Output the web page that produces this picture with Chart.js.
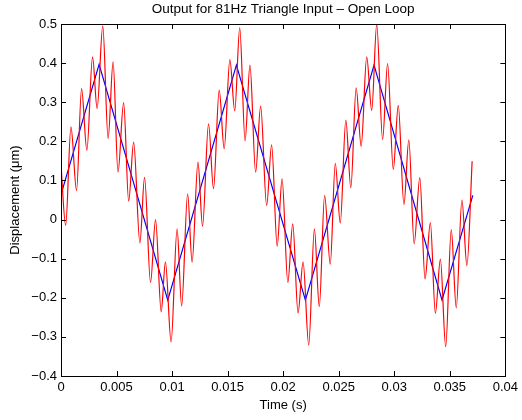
<!DOCTYPE html>
<html>
<head>
<meta charset="utf-8">
<script src="https://cdn.jsdelivr.net/npm/chart.js@4"></script>
<style>
html,body{margin:0;padding:0;background:#fff;}
#wrap{width:522px;height:420px;}
</style>
</head>
<body>
<div id="wrap"><canvas id="c" width="522" height="420"></canvas></div>
<script>
const chartTitle = "Output for 81Hz Triangle Input \u2013 Open Loop";
const xTitle = "Time (s)";
const yTitle = "Displacement (\u03bcm)";

const xTicks = [0, 0.005, 0.01, 0.015, 0.02, 0.025, 0.03, 0.035, 0.04];
const xTickLabels = ["0", "0.005", "0.01", "0.015", "0.02", "0.025", "0.03", "0.035", "0.04"];
const yTicks = [-0.4, -0.3, -0.2, -0.1, 0, 0.1, 0.2, 0.3, 0.4, 0.5];
const yTickLabels = ["\u22120.4", "\u22120.3", "\u22120.2", "\u22120.1", "0", "0.1", "0.2", "0.3", "0.4", "0.5"];

// Output (red) – extrema
const outputTime = [
  0, 0.00042, 0.000895, 0.0014, 0.00185, 0.00233, 0.00284, 0.00325, 0.00376, 0.00424,
  0.00469, 0.00513, 0.00564, 0.00609, 0.00654, 0.0071, 0.00752, 0.00806, 0.00851, 0.00902,
  0.0094, 0.00991, 0.01045, 0.01086, 0.0114, 0.0118, 0.01233, 0.01274, 0.01328, 0.01373,
  0.01424, 0.01469, 0.0152, 0.01564, 0.01609, 0.01657, 0.01701, 0.01752, 0.01797, 0.01851,
  0.01896, 0.01946, 0.0199, 0.02042, 0.02086, 0.02134, 0.02179, 0.0223, 0.02281, 0.02325,
  0.02373, 0.02424, 0.02469, 0.02514, 0.02564, 0.02609, 0.02657, 0.02702, 0.02752, 0.02797,
  0.02842, 0.02895, 0.0294, 0.02991, 0.03036, 0.03087, 0.03131, 0.03179, 0.0323, 0.03277,
  0.03325, 0.0337, 0.03415, 0.03463, 0.03513, 0.03558, 0.03609, 0.03654, 0.03701
];
const outputDisp = [
  0.138, -0.015, 0.237, 0.074, 0.335, 0.177, 0.416, 0.284, 0.495, 0.207,
  0.403, 0.121, 0.299, 0.047, 0.198, -0.060, 0.108, -0.161, 0.0, -0.236,
  -0.108, -0.313, -0.024, -0.221, 0.066, -0.109, 0.147, -0.017, 0.245, 0.079,
  0.331, 0.181, 0.409, 0.278, 0.491, 0.201, 0.395, 0.121, 0.290, 0.036,
  0.191, -0.068, 0.104, -0.161, -0.011, -0.239, -0.108, -0.321, -0.024, -0.223,
  0.062, -0.114, 0.144, -0.009, 0.254, 0.081, 0.337, 0.187, 0.416, 0.279,
  0.499, 0.205, 0.399, 0.128, 0.292, 0.038, 0.204, -0.062, 0.107, -0.152,
  -0.008, -0.240, -0.101, -0.325, -0.026, -0.226, 0.050, -0.118, 0.149
];

// Input triangle (blue)
const inputTime = [0, 0.00343, 0.00961, 0.01579, 0.022, 0.02818, 0.0343, 0.03707];
const inputDisp = [0.064, 0.397, -0.206, 0.395, -0.206, 0.395, -0.206, 0.062];

const FONT = "'Liberation Sans', Arial, Helvetica, sans-serif";

const boxPlugin = {
  id: 'boxTicks',
  afterDraw(chart) {
    const {ctx, chartArea: a, scales} = chart;
    const L = 5;
    ctx.save();
    ctx.strokeStyle = '#000';
    ctx.lineWidth = 1;
    ctx.beginPath();
    scales.x.ticks.forEach(t => {
      const px = Math.round(scales.x.getPixelForValue(t.value)) + 0.5;
      ctx.moveTo(px, a.bottom); ctx.lineTo(px, a.bottom - L);
      ctx.moveTo(px, a.top); ctx.lineTo(px, a.top + L);
    });
    scales.y.ticks.forEach(t => {
      const py = Math.round(scales.y.getPixelForValue(t.value)) + 0.5;
      ctx.moveTo(a.left, py); ctx.lineTo(a.left + L, py);
      ctx.moveTo(a.right, py); ctx.lineTo(a.right - L, py);
    });
    ctx.stroke();
    ctx.strokeRect(Math.round(a.left) + 0.5, Math.round(a.top) + 0.5,
      Math.round(a.right - a.left), Math.round(a.bottom - a.top));
    // title centred over the axes, as in the reference
    ctx.fillStyle = '#000';
    ctx.font = "13.5px " + FONT;
    ctx.textAlign = 'center';
    ctx.textBaseline = 'middle';
    ctx.fillText(chartTitle, (a.left + a.right) / 2, 9.5);
    ctx.restore();
  }
};

new Chart(document.getElementById('c'), {
  type: 'line',
  data: {
    datasets: [
      {
        label: 'Output',
        data: outputTime.map((t, i) => ({x: t, y: outputDisp[i]})),
        borderColor: '#ff0000',
        borderWidth: 1.2,
        pointRadius: 0,
        cubicInterpolationMode: 'monotone',
        fill: false
      },
      {
        label: 'Input',
        data: inputTime.map((t, i) => ({x: t, y: inputDisp[i]})),
        borderColor: '#0000ff',
        borderWidth: 1.2,
        pointRadius: 0,
        tension: 0,
        fill: false
      }
    ]
  },
  options: {
    responsive: false,
    animation: false,
    devicePixelRatio: 1,
    layout: {padding: {top: 24, left: 0, right: 14, bottom: 0}},
    plugins: {
      legend: {display: false},
      tooltip: {enabled: false},
      title: {display: false}
    },
    scales: {
      x: {
        type: 'linear',
        min: 0, max: 0.04,
        afterBuildTicks: s => { s.ticks = xTicks.map(v => ({value: v})); },
        afterFit: s => { s.height = 44; },
        grid: {display: false, drawTicks: false},
        border: {display: false},
        ticks: {
          color: '#000',
          font: {family: FONT, size: 13},
          padding: 4,
          maxRotation: 0,
          autoSkip: false,
          callback: (v, i) => xTickLabels[i]
        },
        title: {
          display: true, text: xTitle, color: '#000',
          font: {family: FONT, size: 13},
          padding: {top: 0, bottom: 6.7}
        }
      },
      y: {
        type: 'linear',
        min: -0.4, max: 0.5,
        afterBuildTicks: s => { s.ticks = yTicks.map(v => ({value: v})); },
        afterFit: s => { s.width = 61; },
        grid: {display: false, drawTicks: false},
        border: {display: false},
        ticks: {
          color: '#000',
          font: {family: FONT, size: 13},
          padding: 4,
          autoSkip: false,
          callback: (v, i) => yTickLabels[i]
        },
        title: {
          display: true, text: yTitle, color: '#000',
          font: {family: FONT, size: 13},
          padding: {top: 7.7, bottom: 0}
        }
      }
    }
  },
  plugins: [boxPlugin]
});
</script>
</body>
</html>
